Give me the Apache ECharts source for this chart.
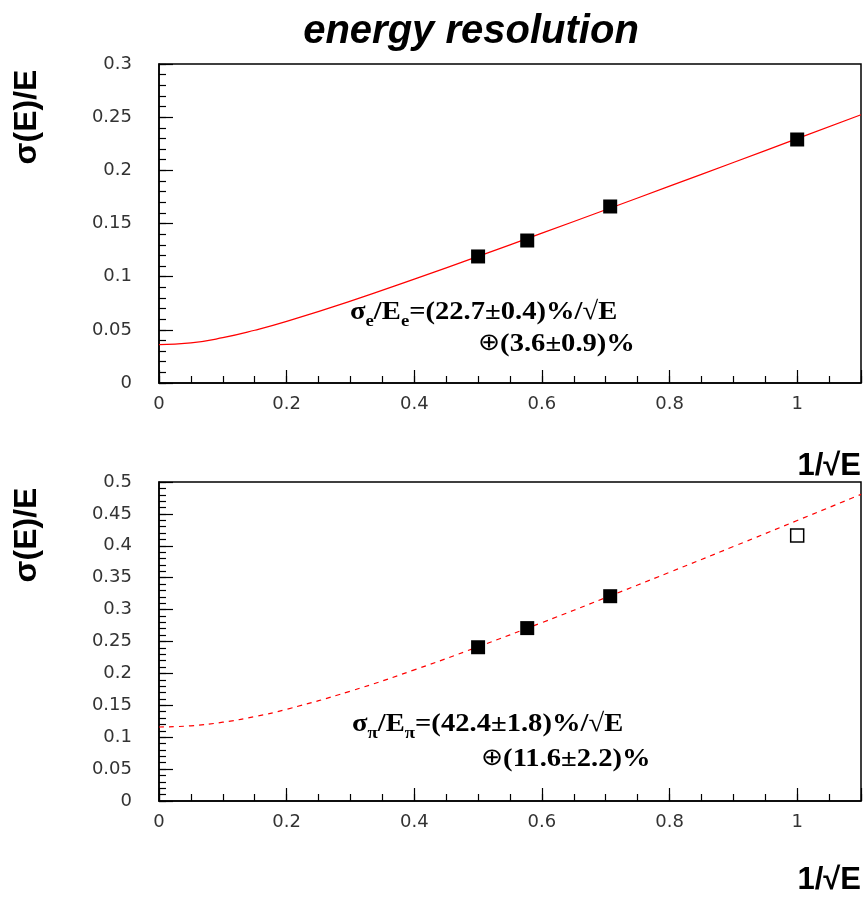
<!DOCTYPE html>
<html>
<head>
<meta charset="utf-8">
<script src="https://cdn.jsdelivr.net/npm/echarts@6/dist/echarts.min.js"></script>
<style>html,body{margin:0;padding:0;background:#fff;}#c{width:864px;height:897px;}</style>
</head>
<body>
<div id="c"></div>
<script>
// ---- data ----
const titleText = 'energy resolution';
const yName = 'σ(E)/E';
const xName = '1/√E';
const xElectron = [0.5, 0.577, 0.707, 1.0];
const yElectron = [0.119, 0.134, 0.166, 0.229];
const xPion = [0.5, 0.577, 0.707];
const yPion = [0.241, 0.271, 0.321];
const xPionOpen = [1.0];
const yPionOpen = [0.416];
const fitX = [0, 0.05, 0.1, 0.15, 0.2, 0.3, 0.4, 0.5, 0.6, 0.7, 0.8, 0.9, 1.0, 1.1];
const fitElectron = [0.036, 0.0377, 0.0426, 0.0496, 0.0579, 0.0770, 0.0977, 0.1191, 0.1409, 0.1629, 0.1851, 0.2074, 0.2298, 0.2523];
const fitPion = [0.116, 0.1179, 0.1235, 0.1323, 0.1437, 0.1722, 0.2055, 0.2417, 0.2796, 0.3187, 0.3585, 0.3988, 0.4396, 0.4806];
const xTickLabels = ['0', '0.2', '0.4', '0.6', '0.8', '1'];
const yTopTickLabels = ['0', '0.05', '0.1', '0.15', '0.2', '0.25', '0.3'];
const yBottomTickLabels = ['0', '0.05', '0.1', '0.15', '0.2', '0.25', '0.3', '0.35', '0.4', '0.45', '0.5'];

const pairs = (xs, ys) => xs.map((x, i) => [x, ys[i]]);
const fmt = list => v => { const s = String(+v.toFixed(3)); return list.includes(s) ? s : ''; };

const LBL = {fontFamily: 'DejaVu Sans', fontSize: 18, color: '#333'};
function majorX(grid) {
  return {type: 'value', gridIndex: grid, min: 0, max: 1.1, interval: 0.2, position: 'bottom',
    axisLine: {show: true, lineStyle: {color: '#000', width: 1.5}},
    axisTick: {show: true, inside: true, length: 13, lineStyle: {color: '#000', width: 1.2}},
    axisLabel: Object.assign({margin: 12, formatter: fmt(xTickLabels)}, LBL),
    splitLine: {show: false}};
}
function minorX(grid) {
  return {type: 'value', gridIndex: grid, min: 0, max: 1.1, interval: 0.05, position: 'bottom', offset: 0,
    axisLine: {show: false}, axisLabel: {show: false}, splitLine: {show: false},
    axisTick: {show: true, inside: true, length: 7, lineStyle: {color: '#000', width: 1.2}}};
}
function majorY(grid, max, labels) {
  return {type: 'value', gridIndex: grid, min: 0, max: max, interval: 0.05, position: 'left',
    axisLine: {show: true, lineStyle: {color: '#000', width: 1.5}},
    axisTick: {show: true, inside: true, length: 14, lineStyle: {color: '#000', width: 1.2}},
    axisLabel: Object.assign({margin: 27, formatter: fmt(labels)}, LBL),
    splitLine: {show: false}};
}
function minorY(grid, max) {
  return {type: 'value', gridIndex: grid, min: 0, max: max, interval: 0.01, position: 'left', offset: 0,
    axisLine: {show: false}, axisLabel: {show: false}, splitLine: {show: false},
    axisTick: {show: true, inside: true, length: 7, lineStyle: {color: '#000', width: 1.2}}};
}

const serifBold = {fontFamily: 'Liberation Serif', fontWeight: 'bold', fontSize: 26, lineHeight: 36, verticalAlign: 'middle'};
const subStyle = {fontFamily: 'Liberation Serif', fontWeight: 'bold', fontSize: 17, lineHeight: 36, verticalAlign: 'bottom'};
const oplusStyle = {fontFamily: 'DejaVu Sans', fontWeight: 'normal', fontSize: 24, lineHeight: 36, verticalAlign: 'middle'};
function formula(x, y, text) {
  return {type: 'text', x: x, y: y, scaleX: 1.1, z: 100,
    style: {text: text, align: 'left', verticalAlign: 'top', fill: '#000',
      rich: {m: serifBold, s: subStyle, o: oplusStyle}}};
}
function bigLabel(x, y, text, opts) {
  return Object.assign({type: 'text', x: x, y: y, z: 100,
    style: {text: text, fontFamily: 'Liberation Sans', fontWeight: 'bold', fontSize: 32, fill: '#000',
      align: 'center', verticalAlign: 'middle'}}, opts || {});
}
const xNameStyle = {text: xName, fontFamily: 'Liberation Sans', fontWeight: 'bold', fontSize: 31,
  fill: '#000', align: 'right', verticalAlign: 'middle'};

const chart = echarts.init(document.getElementById('c'), null, {renderer: 'canvas'});
chart.setOption({
  animation: false,
  backgroundColor: '#fff',
  grid: [
    {left: 159, top: 64, width: 703, height: 319, show: true, borderColor: '#000', borderWidth: 1.5, backgroundColor: 'transparent'},
    {left: 159, top: 482, width: 703, height: 319, show: true, borderColor: '#000', borderWidth: 1.5, backgroundColor: 'transparent'}
  ],
  xAxis: [majorX(0), majorX(1), minorX(0), minorX(1)],
  yAxis: [majorY(0, 0.3, yTopTickLabels), majorY(1, 0.5, yBottomTickLabels), minorY(0, 0.3), minorY(1, 0.5)],
  series: [
    {type: 'line', xAxisIndex: 0, yAxisIndex: 0, data: pairs(fitX, fitElectron), smooth: true, showSymbol: false,
      lineStyle: {color: '#ff0000', width: 1.2}, z: 2},
    {type: 'scatter', xAxisIndex: 0, yAxisIndex: 0, data: pairs(xElectron, yElectron), symbol: 'rect', symbolSize: 14,
      itemStyle: {color: '#000', opacity: 1}, z: 3},
    {type: 'line', xAxisIndex: 1, yAxisIndex: 1, data: pairs(fitX, fitPion), smooth: true, showSymbol: false,
      lineStyle: {color: '#ff0000', width: 1.2, type: [5, 5]}, z: 2},
    {type: 'scatter', xAxisIndex: 1, yAxisIndex: 1, data: pairs(xPion, yPion), symbol: 'rect', symbolSize: 14,
      itemStyle: {color: '#000', opacity: 1}, z: 3},
    {type: 'scatter', xAxisIndex: 1, yAxisIndex: 1, data: pairs(xPionOpen, yPionOpen), symbol: 'rect', symbolSize: 13,
      itemStyle: {color: '#fff', borderColor: '#000', borderWidth: 1.5, opacity: 1}, z: 3}
  ],
  graphic: [
    {type: 'text', x: 471, y: 32, z: 100, style: {text: titleText, fontFamily: 'Liberation Sans', fontWeight: 'bold',
      fontStyle: 'italic', fontSize: 40, fill: '#000', align: 'center', verticalAlign: 'middle'}},
    bigLabel(27, 117, yName, {rotation: Math.PI / 2}),
    bigLabel(27, 535, yName, {rotation: Math.PI / 2}),
    {type: 'text', x: 861, y: 466, z: 100, style: xNameStyle},
    {type: 'text', x: 861, y: 880, z: 100, style: xNameStyle},
    formula(350, 294, '{m|σ}{s|e}{m|/E}{s|e}{m|=(22.7±0.4)%/√E}'),
    formula(478, 326, '{o|⊕}{m|(3.6±0.9)%}'),
    formula(352, 706, '{m|σ}{s|π}{m|/E}{s|π}{m|=(42.4±1.8)%/√E}'),
    formula(481, 741, '{o|⊕}{m|(11.6±2.2)%}')
  ]
});
</script>
</body>
</html>
